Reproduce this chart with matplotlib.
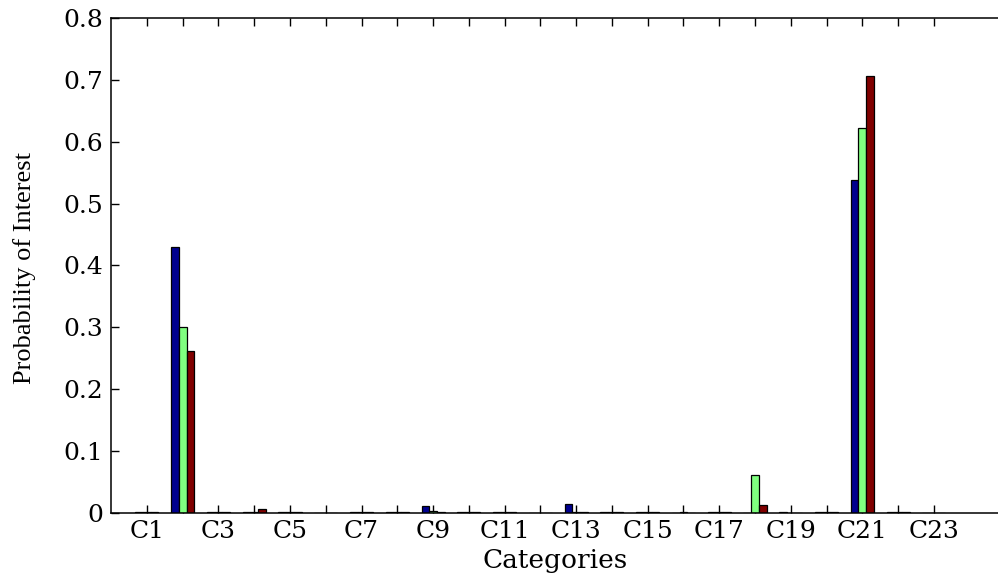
import numpy as np
import matplotlib
matplotlib.use("Agg")
import matplotlib.pyplot as plt

# ------------------------------
# Data
# ------------------------------
categories = ["C%d" % i for i in range(1, 24)]
series_blue = [0.001, 0.430, 0.001, 0.002, 0.001, 0.0, 0.001, 0.001, 0.011, 0.001,
               0.001, 0.0, 0.014, 0.001, 0.001, 0.0, 0.001, 0.0, 0.001, 0.001,
               0.538, 0.001, 0.0]
series_green = [0.001, 0.300, 0.001, 0.001, 0.001, 0.0, 0.001, 0.001, 0.003, 0.001,
                0.001, 0.0, 0.002, 0.001, 0.001, 0.001, 0.001, 0.062, 0.0, 0.001,
                0.622, 0.001, 0.0]
series_red = [0.001, 0.262, 0.001, 0.006, 0.001, 0.0, 0.001, 0.001, 0.001, 0.001,
              0.001, 0.0, 0.001, 0.001, 0.001, 0.0, 0.001, 0.013, 0.0, 0.001,
              0.706, 0.001, 0.0]
yticks = [0, 0.1, 0.2, 0.3, 0.4, 0.5, 0.6, 0.7, 0.8]

colors = ["#00008F", "#80FF80", "#800000"]
bar_w = 0.215

fig = plt.figure(figsize=(9.98, 5.74), dpi=100)
ax = fig.add_axes([0.1114, 0.1063, 0.896, 0.8624])

x = np.arange(1, len(categories) + 1)
for k, (vals, col) in enumerate(zip([series_blue, series_green, series_red], colors)):
    ax.bar(x + (k - 1) * bar_w, vals, width=bar_w, color=col,
           edgecolor="black", linewidth=0.9, zorder=2)

ax.set_xlim(0, 25)
ax.set_ylim(0, 0.8)
ax.set_xticks(x)
ax.set_xticklabels([c if i % 2 == 0 else "" for i, c in enumerate(categories)])
ax.set_yticks(yticks)
ax.set_yticklabels(["0" if v == 0 else "%.1f" % v for v in yticks])

ax.tick_params(direction="in", length=5.5, width=1, top=True, right=False,
               labelsize=18)
ax.tick_params(axis="x", pad=5)
ax.tick_params(axis="y", pad=6)
for lab in ax.get_xticklabels() + ax.get_yticklabels():
    lab.set_family("DejaVu Serif")
for sp in ax.spines.values():
    sp.set_linewidth(1.1)

fig.text(25 / 998, 1 - 268 / 574, "Probability of Interest", rotation=90,
         ha="center", va="center", fontsize=19, family="Liberation Serif")
fig.text(555 / 998, 1 / 574, "Categories", ha="center", va="bottom",
         fontsize=19, family="DejaVu Serif")

fig.savefig("out.png", dpi=100)
